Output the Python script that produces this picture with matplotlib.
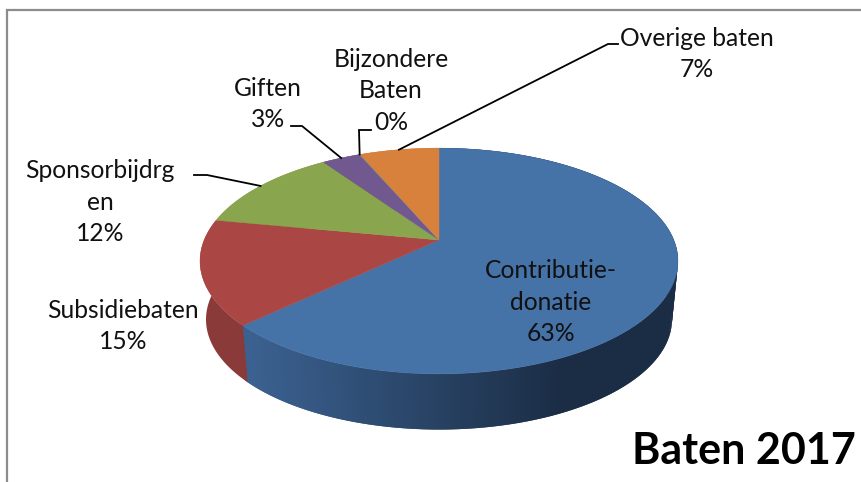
import numpy as np
import matplotlib
matplotlib.use("Agg")
import matplotlib.pyplot as plt

# --- DATA ---
labels = ["Contributie-\ndonatie\n63%", "Subsidiebaten\n15%", "Sponsorbijdrg\nen\n12%",
          "Giften\n3%", "Bijzondere\nBaten\n0%", "Overige baten\n7%"]
values = [63.0, 15.0, 12.4, 3.1, 0.05, 6.45]
colors = ["#4572A7", "#AA4643", "#89A54E", "#71588F", "#4198AF", "#D8813C"]
wall_colors = ["#3B6190", "#8A3A38", "#6F8A3F", "#5B4774", "#35798E", "#B06A30"]
wall_dark = "#1B2D45"

# --- LAYOUT (pixels) ---
CX, CY = 439, 240      # apex of the top face
K = 0.186              # perspective strength
RX, RY = 234.8, 109.0
WALL_DROP = 59
WALL_SCALE = 0.975

label_pos = [(551, 302), (123, 326), (100, 202), (268, 104), (391, 91), (697, 54)]
# elbow points of the leader lines, None = no leader
elbows = [None, None,
          [(207, 175), (194, 175)],
          [(302, 126), (291, 126)],
          [(359, 130), (371, 130)],
          [(608, 44), (618, 44)]]


def project(theta, scale=1.0, drop=0.0):
    """Disc angle (clockwise from the top) to pixel position, with perspective."""
    u, v = np.sin(theta), np.cos(theta)
    den = 1 + K * v
    x = CX + scale * RX * u / den
    y = CY + drop - scale * RY * v / den
    return x, y


def mix(c1, c2, t):
    a = np.array(matplotlib.colors.to_rgb(c1))
    b = np.array(matplotlib.colors.to_rgb(c2))
    return tuple(a + (b - a) * t)


fig = plt.figure(figsize=(8.61, 4.82), dpi=100)
ax = fig.add_axes([0, 0, 1, 1])
ax.set_xlim(0, 861)
ax.set_ylim(482, 0)
ax.axis("off")

plt.rcParams["font.family"] = ["Lato", "DejaVu Sans"]

# chart frame
ax.plot([6.5, 6.5, 861], [482, 9.5, 9.5], color="#8C8C8C", lw=1.6, solid_joinstyle="miter")

fracs = np.array(values) / sum(values)
edges = np.concatenate([[0], np.cumsum(fracs)]) * 2 * np.pi

# side walls first, the top faces cover the back part of them
for i in range(len(values)):
    if i == 0:
        # blue wall runs dark to the right, drawn as overlapping strips
        steps = np.linspace(edges[0], edges[1], 200)
        for a, b in zip(steps[:-1], steps[1:]):
            ts = np.array([a, b + 0.02])
            x1, y1 = project(ts)
            x2, y2 = project(ts[::-1], WALL_SCALE, WALL_DROP)
            t = np.clip((x1.mean() - 248) / (560 - 248), 0, 1)
            ax.fill(np.r_[x1, x2], np.r_[y1, y2], color=mix(wall_colors[0], wall_dark, t),
                    lw=0, zorder=2)
    else:
        ts = np.linspace(edges[i], edges[i + 1], 120)
        x1, y1 = project(ts)
        x2, y2 = project(ts[::-1], WALL_SCALE, WALL_DROP)
        ax.fill(np.r_[x1, x2], np.r_[y1, y2], color=wall_colors[i], lw=0, zorder=2)

# top faces
for i in range(len(values)):
    ts = np.linspace(edges[i], edges[i + 1], 120)
    x, y = project(ts)
    ax.fill(np.r_[CX, x], np.r_[CY, y], color=colors[i], lw=0.3, zorder=3)

# leader lines start on the middle of the slice rim
for i in range(len(values)):
    if elbows[i] is None:
        continue
    x0, y0 = project((edges[i] + edges[i + 1]) / 2)
    xs = [x0] + [p[0] for p in elbows[i]]
    ys = [y0] + [p[1] for p in elbows[i]]
    ax.plot(xs, ys, color="black", lw=1.3, zorder=4, solid_joinstyle="miter")

for lab, (x, y) in zip(labels, label_pos):
    ax.text(x, y, lab, ha="center", va="center", fontsize=17.7, color="#111111",
            linespacing=1.45, zorder=5)

ax.text(856, 451, "Baten 2017", ha="right", va="center", fontsize=31, fontweight="bold",
        color="black", zorder=5)

fig.savefig("out.png", dpi=100)
